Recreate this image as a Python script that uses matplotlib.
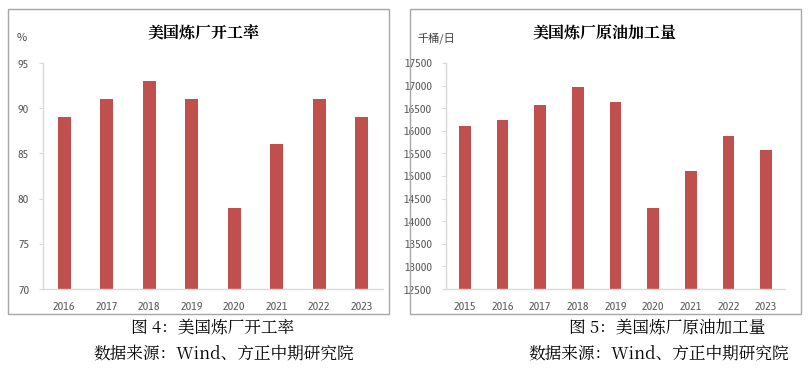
import matplotlib
matplotlib.use("Agg")
import matplotlib.pyplot as plt
from matplotlib.patches import Rectangle

# left panel: refinery utilisation (%)
util_years = ["2016", "2017", "2018", "2019", "2020", "2021", "2022", "2023"]
util_values = [89, 91, 93, 91, 79, 86, 91, 89]

# right panel: crude runs (thousand barrels/day)
runs_years = ["2015", "2016", "2017", "2018", "2019", "2020", "2021", "2022", "2023"]
runs_values = [16100, 16230, 16570, 16970, 16630, 14285, 15110, 15890, 15585]

BAR = "#c0504d"
AX = "#d9d9d9"
TXT = "#595959"
CJK = ["Noto Serif CJK SC", "Noto Sans CJK SC", "DejaVu Sans"]
CJK_SANS = ["Noto Sans CJK SC", "DejaVu Sans"]
NARROW = ["Liberation Sans Narrow", "Arial Narrow", "Asap Condensed",
          "Barlow Semi Condensed", "DejaVu Sans"]

W, H = 811, 368


def fx(px):
    return px / W


def fy(py):
    return 1 - py / H


def panel(fig, box, ax_px, years, values, ylim, yticks, title, unit, unit_x, title_x):
    x0, y0, x1, y1 = box
    fig.patches.append(Rectangle((fx(x0), fy(y1)), fx(x1 - x0), (y1 - y0) / H,
                                 transform=fig.transFigure, fill=False,
                                 edgecolor="#a6a6a6", linewidth=1.0))
    l, t, r, b = ax_px
    ax = fig.add_axes([fx(l), fy(b), fx(r - l), (b - t) / H])
    ax.bar(range(len(years)), values, width=0.31, color=BAR, zorder=2)
    ax.set_xlim(-0.5, len(years) - 0.5)
    ax.set_ylim(*ylim)
    ax.set_yticks(yticks)
    ax.set_xticks(range(len(years)))
    ax.set_xticklabels(years)
    for lab in ax.get_yticklabels() + ax.get_xticklabels():
        lab.set_family(NARROW)
        lab.set_fontsize(8.5)
        lab.set_color(TXT)
    for s in ["top", "right"]:
        ax.spines[s].set_visible(False)
    for s in ["left", "bottom"]:
        ax.spines[s].set_color(AX)
        ax.spines[s].set_linewidth(1.0)
    ax.tick_params(axis="x", length=0, pad=9)
    ax.tick_params(axis="y", length=3, color=AX, pad=7)
    fig.text(fx(title_x), fy(33), title, ha="center", va="center", fontsize=11.5,
             fontweight="bold", family=CJK)
    fig.text(fx(unit_x), fy(38), unit, ha="left", va="center", fontsize=8,
             color="#404040", family=CJK_SANS)
    return ax


fig = plt.figure(figsize=(W / 100, H / 100), dpi=100)

panel(fig, (8, 9, 389, 314), (43, 63, 383, 289), util_years, util_values,
      (70, 95), [70, 75, 80, 85, 90, 95], "美国炼厂开工率", "%", 17, 204)

panel(fig, (410, 9, 801, 314), (446, 63, 785, 289), runs_years, runs_values,
      (12500, 17500), list(range(12500, 17501, 500)), "美国炼厂原油加工量", "千桶/日", 417, 605)

# captions below the panels
fig.text(fx(213), fy(329), "图 4：美国炼厂开工率", ha="center", va="center", fontsize=12, family=CJK)
fig.text(fx(224), fy(354), "数据来源：Wind、方正中期研究院", ha="center", va="center", fontsize=12, family=CJK)
fig.text(fx(667), fy(329), "图 5：美国炼厂原油加工量", ha="center", va="center", fontsize=12, family=CJK)
fig.text(fx(659), fy(354), "数据来源：Wind、方正中期研究院", ha="center", va="center", fontsize=12, family=CJK)

fig.savefig("out.png", dpi=100)
